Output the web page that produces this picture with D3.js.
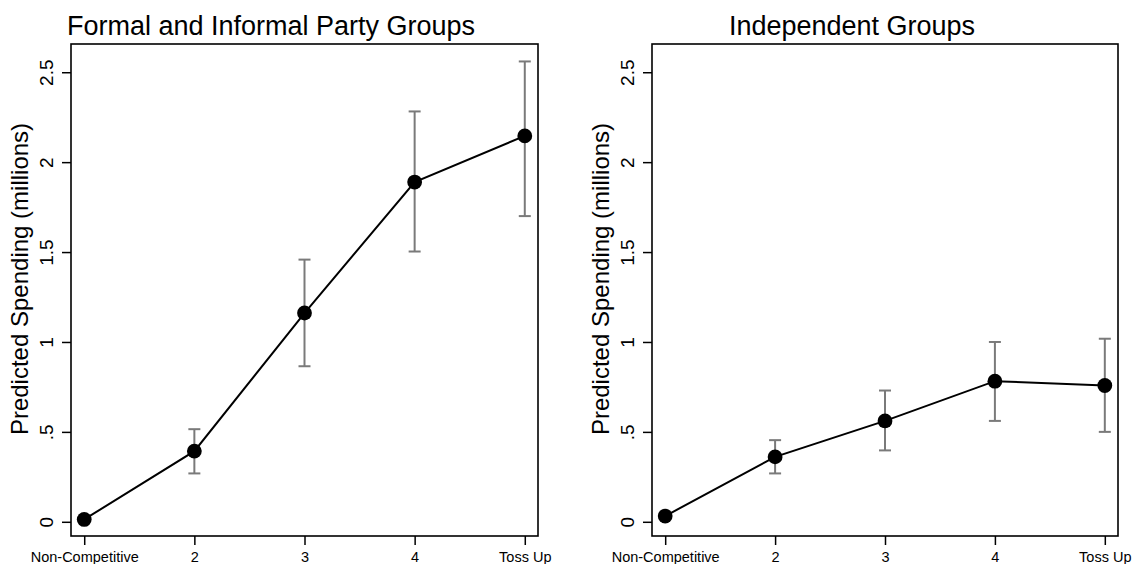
<!DOCTYPE html>
<html>
<head>
<meta charset="utf-8">
<script src="https://cdn.jsdelivr.net/npm/d3@7"></script>
<style>
  html, body { margin: 0; padding: 0; background: #fff; }
  svg { display: block; font-family: "Liberation Sans", Arial, Helvetica, sans-serif; }
</style>
</head>
<body>
<svg id="chart" width="1133" height="564"></svg>
<script>
// ---- Data ----
const categories = [1, 2, 3, 4, 5];
const categoryLabels = ["Non-Competitive", "2", "3", "4", "Toss Up"];
const yTickValues = [0, 0.5, 1, 1.5, 2, 2.5];
const yTickLabels = ["0", ".5", "1", "1.5", "2", "2.5"];

const partyTitle = "Formal and Informal Party Groups";
const partyValues = [0.013, 0.393, 1.161, 1.889, 2.146];
const partyLower  = [0.005, 0.269, 0.865, 1.503, 1.700];
const partyUpper  = [0.022, 0.515, 1.458, 2.282, 2.560];

const indepTitle = "Independent Groups";
const indepValues = [0.032, 0.361, 0.561, 0.782, 0.758];
const indepLower  = [0.025, 0.269, 0.397, 0.561, 0.500];
const indepUpper  = [0.040, 0.454, 0.730, 1.000, 1.018];

const yAxisTitle = "Predicted Spending (millions)";

// ---- Layout ----
const panels = [
  { title: partyTitle, values: partyValues, lower: partyLower, upper: partyUpper,
    left: 71, right: 538, titleX: 271, yTitleX: 28 },
  { title: indepTitle, values: indepValues, lower: indepLower, upper: indepUpper,
    left: 652, right: 1118, titleX: 852, yTitleX: 609 }
];
const plotTop = 44, plotBottom = 536;
const svg = d3.select("#chart");

const y = d3.scaleLinear().domain([-0.079, 2.657]).range([plotBottom, plotTop]);

panels.forEach(p => {
  const x = d3.scaleLinear().domain([0.88, 5.12]).range([p.left, p.right]);
  const g = svg.append("g");

  // frame
  g.append("rect")
    .attr("x", p.left).attr("y", plotTop)
    .attr("width", p.right - p.left).attr("height", plotBottom - plotTop)
    .attr("fill", "none").attr("stroke", "#000").attr("stroke-width", 1.6);

  // y axis
  const yAxis = d3.axisLeft(y).tickValues(yTickValues).tickSize(9).tickPadding(8)
    .tickFormat((d, i) => yTickLabels[i]);
  const ya = g.append("g").attr("transform", `translate(${p.left},0)`).call(yAxis);
  ya.select(".domain").remove();
  ya.selectAll(".tick line").attr("stroke", "#000").attr("stroke-width", 1.5);
  ya.selectAll(".tick text")
    .attr("font-size", 19).attr("fill", "#000")
    .attr("font-family", "Liberation Sans, Arial, sans-serif")
    .attr("x", null).attr("dy", null)
    .attr("text-anchor", "middle")
    .attr("transform", "translate(-18,0) rotate(-90)");

  // x axis
  const xAxis = d3.axisBottom(x).tickValues(categories).tickSize(9).tickPadding(6)
    .tickFormat((d, i) => categoryLabels[i]);
  const xa = g.append("g").attr("transform", `translate(0,${plotBottom})`).call(xAxis);
  xa.select(".domain").remove();
  xa.selectAll(".tick line").attr("stroke", "#000").attr("stroke-width", 1.5);
  xa.selectAll(".tick text")
    .attr("font-size", 14.5).attr("fill", "#000")
    .attr("font-family", "Liberation Sans, Arial, sans-serif")
    .attr("dy", null).attr("y", 26);

  // y axis title
  g.append("text")
    .attr("transform", `translate(${p.yTitleX},279) rotate(-90)`)
    .attr("text-anchor", "middle")
    .attr("font-size", 24).attr("fill", "#000")
    .text(yAxisTitle);

  // panel title
  g.append("text")
    .attr("x", p.titleX).attr("y", 35)
    .attr("text-anchor", "middle")
    .attr("font-size", 27).attr("fill", "#000")
    .text(p.title);

  // error bars
  const eb = g.append("g").attr("stroke", "#7a7a7a").attr("stroke-width", 2).attr("fill", "none");
  categories.forEach((c, i) => {
    const cx = x(c);
    eb.append("line").attr("x1", cx).attr("x2", cx)
      .attr("y1", y(p.lower[i])).attr("y2", y(p.upper[i]));
    [p.lower[i], p.upper[i]].forEach(v => {
      eb.append("line").attr("x1", cx - 6).attr("x2", cx + 6)
        .attr("y1", y(v)).attr("y2", y(v));
    });
  });

  // connecting line
  const line = d3.line().x((d, i) => x(categories[i])).y(d => y(d));
  g.append("path").datum(p.values)
    .attr("d", line).attr("fill", "none")
    .attr("stroke", "#000").attr("stroke-width", 2);

  // markers
  g.selectAll("circle.pt").data(p.values).enter().append("circle")
    .attr("class", "pt")
    .attr("cx", (d, i) => x(categories[i])).attr("cy", d => y(d))
    .attr("r", 7.4).attr("fill", "#000");
});
</script>
</body>
</html>
